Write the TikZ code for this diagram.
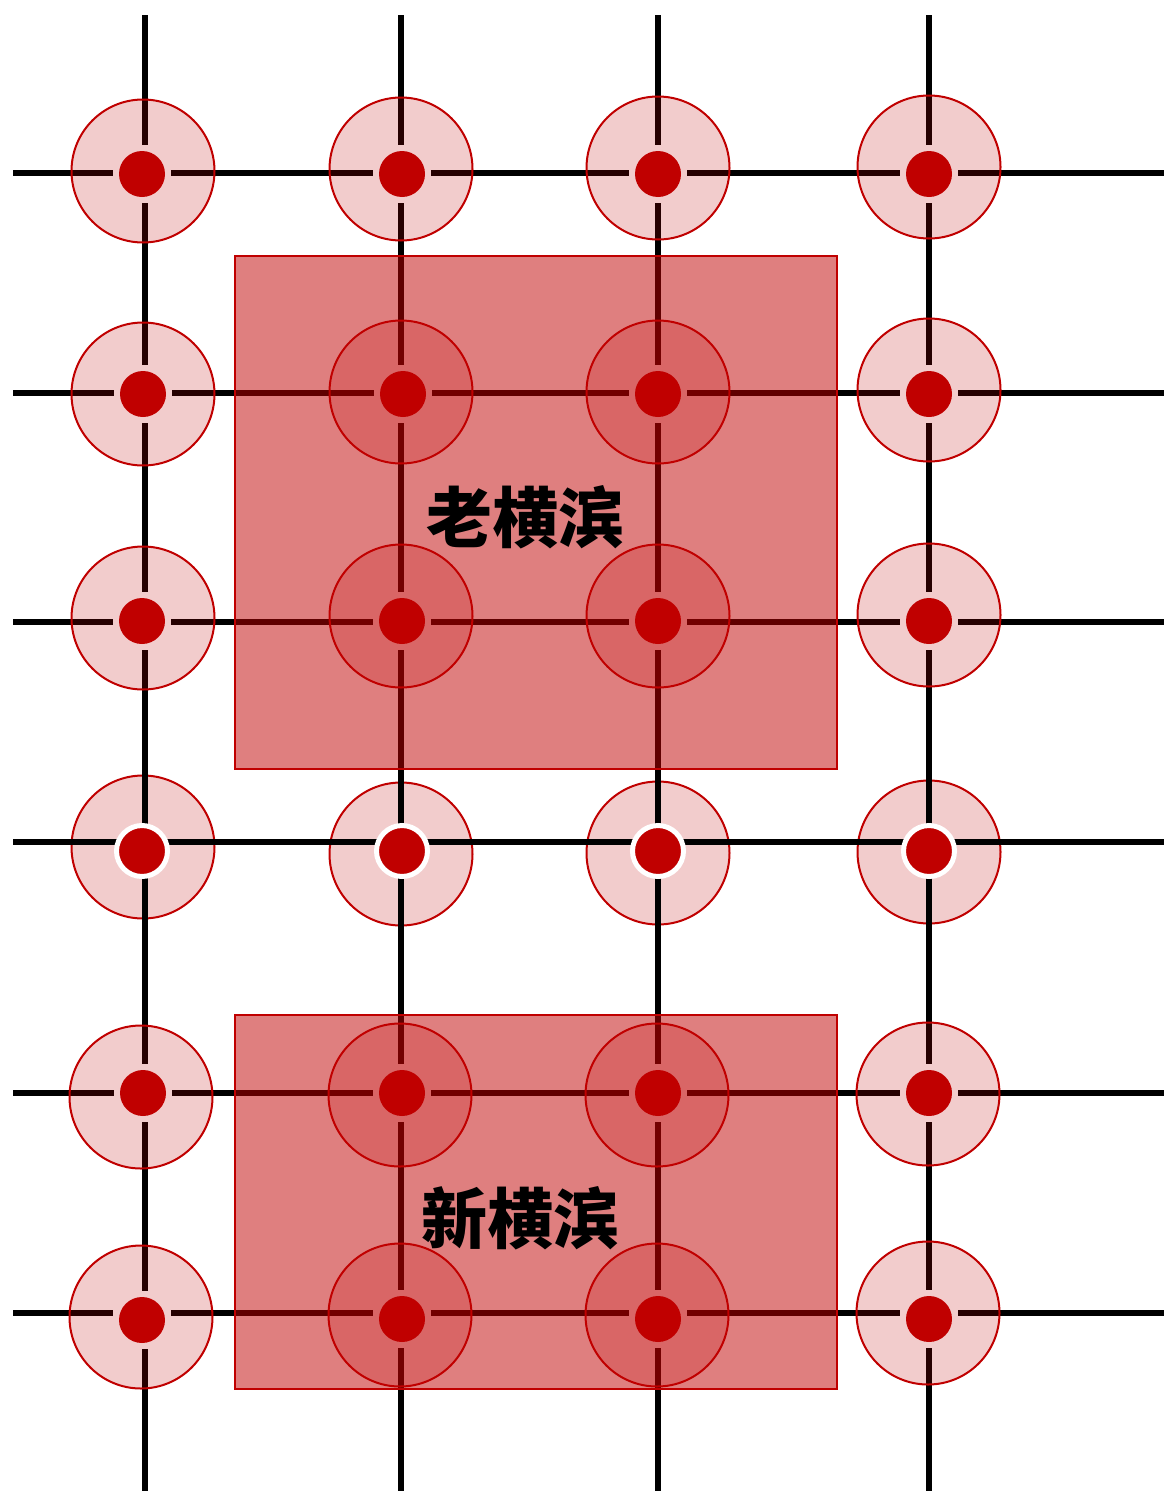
\documentclass[tikz,border=0pt]{standalone}
\usepackage{fontspec}
\newfontfamily\cjk{Noto Sans CJK SC}
\definecolor{hred}{HTML}{C00000}
\pgfdeclarelayer{halofour}
\pgfdeclarelayer{lines}
\pgfdeclarelayer{halos}
\pgfdeclarelayer{areas}
\pgfdeclarelayer{texts}
\pgfsetlayers{halofour,lines,halos,main,areas,texts}
\begin{document}
\begin{tikzpicture}[x=1pt,y=-1pt,
  gridline/.style={line width=6pt, draw=black},
  halo/.style={circle, draw=hred, line width=2pt, fill=hred, fill opacity=0.2, draw opacity=1, minimum size=143pt, inner sep=0pt},
  dot/.style={circle, fill=hred, minimum size=46pt, inner sep=0pt, outer sep=0pt},
  ringdot/.style={circle, fill=hred, draw=white, line width=5pt, minimum size=51pt, inner sep=0pt, outer sep=0pt},
  area/.style={rectangle, draw=hred, line width=2.5pt, fill=hred, fill opacity=0.5, draw opacity=1, inner sep=0pt},
  citytext/.style={font=\cjk\bfseries\fontsize{66}{70}\selectfont, text=black}]
\useasboundingbox (0,0) rectangle (1164,1491);
% grid intersections
\foreach \c/\x in {1/145,2/401,3/658,4/929}{
  \foreach \r/\y in {1/173,2/393,3/622,4/842,5/1093,6/1313}{
    \coordinate (g\r\c) at (\x,\y);
  }
  \coordinate (top\c) at (\x,15);
  \coordinate (bot\c) at (\x,1491);
}
\foreach \r/\y in {1/173,2/393,3/622,4/842,5/1093,6/1313}{
  \coordinate (left\r) at (13,\y);
  \coordinate (right\r) at (1164,\y);
}
% dots
\foreach \n/\x/\y in {11/142/174,12/402/174,13/658/174,14/929/174,
  21/143/394,22/403/394,23/658/394,24/929/394,
  31/142/621,32/402/621,33/658/621,34/929/621,
  51/143/1093,52/402/1093,53/658/1093,54/929/1093,
  61/142/1320,62/402/1319,63/658/1319,64/929/1319}{
  \node[dot] (d\n) at (\x,\y) {};
}
\foreach \n/\x/\y in {41/142/851,42/402/851,43/658/851,44/929/851}{
  \node[ringdot] (d\n) at (\x,\y) {};
}
% halos
\begin{pgfonlayer}{halos}
\foreach \n/\x/\y in {11/143/171,12/401/169,13/658/168,14/929/167,
  21/143/394,22/401/392,23/658/392,24/929/390,
  31/143/618,32/401/616,33/658/616,34/929/615,
  51/141/1097,52/400/1095,53/657/1095,54/928/1094,
  61/141/1317,62/400/1315,63/657/1315,64/928/1313}{
  \node[halo] (c\n) at (\x,\y) {};
}
\end{pgfonlayer}
\begin{pgfonlayer}{halofour}
\foreach \n/\x/\y in {41/143/847,42/401/854,43/658/853,44/929/852}{
  \node[halo] (c\n) at (\x,\y) {};
}
\end{pgfonlayer}
% grid lines
\begin{pgfonlayer}{lines}
\foreach \r in {1,2,3,5,6}{
  \draw[gridline] (left\r) -- ([xshift=-6pt]d\r1.west |- g\r1);
  \foreach \c/\d in {1/2,2/3,3/4}{
    \draw[gridline] ([xshift=6pt]d\r\c.east |- g\r\c) -- ([xshift=-6pt]d\r\d.west |- g\r\d);
  }
  \draw[gridline] ([xshift=6pt]d\r4.east |- g\r4) -- (right\r);
}
\draw[gridline] (left4) -- (right4);
\foreach \c in {1,2,3,4}{
  \draw[gridline] (top\c) -- ([yshift=6pt]d1\c.north -| g1\c);
  \foreach \r/\s in {1/2,2/3,3/5,5/6}{
    \draw[gridline] ([yshift=-6pt]d\r\c.south -| g\r\c) -- ([yshift=6pt]d\s\c.north -| g\s\c);
  }
  \draw[gridline] ([yshift=-6pt]d6\c.south -| g6\c) -- (bot\c);
}
\end{pgfonlayer}
% areas
\begin{pgfonlayer}{areas}
\node[area, minimum width=602pt, minimum height=513pt] (oldarea) at (536,512.5) {};
\node[area, minimum width=602pt, minimum height=374pt] (newarea) at (536,1202) {};
\end{pgfonlayer}
\begin{pgfonlayer}{texts}
\node[citytext] (oldname) at (525,517) {老横滨};
\node[citytext] (newname) at (520,1218) {新横滨};
\end{pgfonlayer}
\end{tikzpicture}
\end{document}
